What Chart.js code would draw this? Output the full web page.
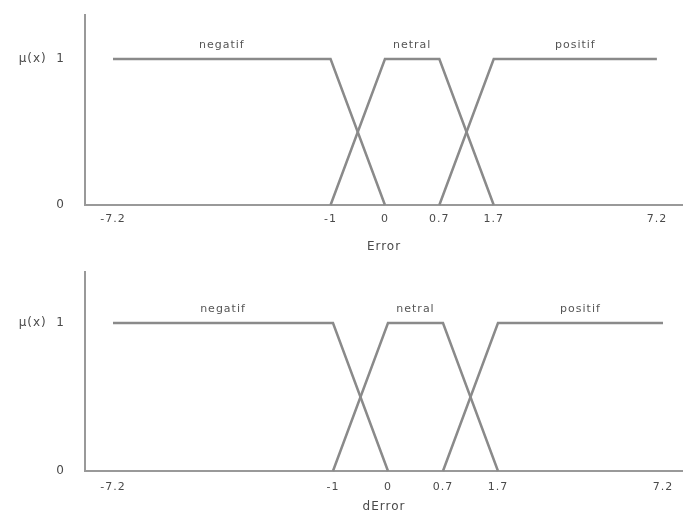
<!DOCTYPE html>
<html>
<head>
<meta charset="utf-8">
<script src="https://cdn.jsdelivr.net/npm/chart.js@4.4.1/dist/chart.umd.min.js"></script>
<style>
  body { margin: 0; background: #fff; }
  .box { position: relative; width: 683px; }
</style>
</head>
<body>
<div class="box" style="height:260px"><canvas id="errorChart"></canvas></div>
<div class="box" style="height:263px"><canvas id="dErrorChart"></canvas></div>
<script>
// x axis is drawn schematic: one slot per label, blanks are empty slots
var xLabels = ['-7.2', '', '', '', '-1', '0', '0.7', '1.7', '', '', '7.2'];
var yTicks = [0, 1];
var yLabels = ['0', '\u03bc(x)  1'];
var setNames = ['negatif', 'netral', 'positif'];

// membership values per slot (null = not part of the set's outline)
var negatif = [1, null, null, null, 1, 0, null, null, null, null, null];
var netral = [null, null, null, null, 0, 1, 1, 0, null, null, null];
var positif = [null, null, null, null, null, null, 0, 1, null, null, 1];

var lineColor = '#8a8a8a';
var textColor = '#4a4a4a';
var fontFam = '"DejaVu Sans", Verdana, sans-serif';

function toPoints(arr) {
  var pts = [];
  for (var i = 0; i < arr.length; i++) {
    if (arr[i] !== null) pts.push({x: i, y: arr[i]});
  }
  return pts;
}

// the original text is set loose, spread the letters a little
var spacingPlugin = {
  id: 'spacing',
  beforeDraw: function(chart) { chart.ctx.letterSpacing = '1px'; }
};

// writes each set's name above its flat top
var setNamePlugin = {
  id: 'setNames',
  afterDatasetsDraw: function(chart) {
    var ctx = chart.ctx;
    var xs = chart.scales.x, ys = chart.scales.y;
    ctx.save();
    ctx.font = '11px ' + fontFam;
    ctx.fillStyle = '#555';
    ctx.textAlign = 'center';
    ctx.textBaseline = 'middle';
    chart.data.datasets.forEach(function(ds) {
      var tops = ds.data.filter(function(p) { return p.y === 1; });
      var lo = tops[0].x, hi = tops[tops.length - 1].x;
      var px = xs.getPixelForValue((lo + hi) / 2);
      var py = ys.getPixelForValue(1) - 14;
      ctx.fillText(ds.label, px, py);
    });
    ctx.restore();
  }
};

function makeChart(id, title, o) {
  var sets = [negatif, netral, positif];
  var datasets = [];
  for (var i = 0; i < sets.length; i++) {
    datasets.push({
      label: setNames[i],
      data: toPoints(sets[i]),
      borderColor: lineColor,
      borderWidth: 2.5,
      pointRadius: 0,
      fill: false,
      tension: 0,
      clip: false
    });
  }
  return new Chart(document.getElementById(id), {
    type: 'line',
    data: { datasets: datasets },
    options: {
      responsive: true,
      maintainAspectRatio: false,
      animation: false,
      layout: { padding: { top: o.top, left: 0, right: 0, bottom: 0 } },
      plugins: { legend: { display: false }, tooltip: { enabled: false } },
      scales: {
        x: {
          type: 'linear',
          min: o.xMin,
          max: o.xMax,
          grid: { display: false, drawTicks: false },
          border: { display: true, color: '#999', width: 2 },
          afterBuildTicks: function(s) {
            s.ticks = xLabels.map(function(l, i) { return {value: i}; });
          },
          afterFit: function(s) {
            s.height = o.xHeight;
            s.paddingLeft = 0;
            s.paddingRight = 0;
          },
          ticks: {
            autoSkip: false,
            maxRotation: 0,
            padding: o.tickPad,
            color: textColor,
            font: { family: fontFam, size: 11 },
            callback: function(v) { return xLabels[v] || ''; }
          },
          title: {
            display: true,
            text: title,
            color: textColor,
            font: { family: fontFam, size: 12 },
            padding: { top: 4, bottom: o.titleBottom }
          }
        },
        y: {
          min: 0,
          max: o.yMax,
          grid: { display: false, drawTicks: false },
          border: { display: true, color: '#999', width: 2 },
          afterBuildTicks: function(s) {
            s.ticks = yTicks.map(function(v) { return {value: v}; });
          },
          afterFit: function(s) {
            s.width = 85;
            s.paddingTop = 0;
            s.paddingBottom = 0;
          },
          ticks: {
            padding: 20,
            color: textColor,
            font: { family: fontFam, size: 12 },
            callback: function(v) { return yLabels[yTicks.indexOf(v)]; }
          }
        }
      }
    },
    plugins: [spacingPlugin, setNamePlugin]
  });
}

makeChart('errorChart', 'Error', {
  top: 15, xHeight: 55, tickPad: 8, titleBottom: 6,
  xMin: -0.515, xMax: 10.48, yMax: 1.301
});
makeChart('dErrorChart', 'dError', {
  top: 12, xHeight: 52, tickPad: 10, titleBottom: 9,
  xMin: -0.509, xMax: 10.364, yMax: 1.345
});
</script>
</body>
</html>
